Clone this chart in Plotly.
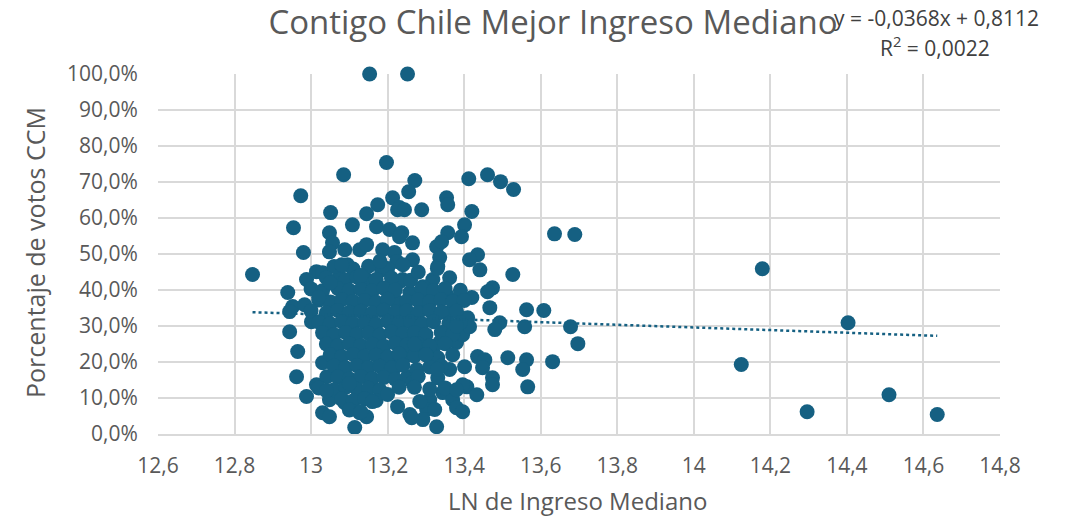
import plotly.graph_objects as go

# LN of median income (x) and CCM vote share (y, fraction)
x_ln = [
    12.847, 13.153, 13.252, 13.197, 13.085, 12.973, 13.271, 13.255, 13.213, 13.174,
    13.354, 13.412, 13.461, 13.495, 13.529, 13.051, 12.954, 13.048, 12.980, 13.108,
    13.145, 13.231, 13.171, 13.205, 13.237, 13.056, 13.048, 13.088, 13.127, 13.145,
    13.187, 13.218, 13.224, 13.095, 13.014, 13.030, 12.988, 13.184, 12.939, 12.952,
    12.983, 13.075, 13.145, 13.239, 13.226, 13.244, 13.289, 13.357, 13.420, 13.401,
    13.393, 13.357, 13.328, 13.341, 13.435, 13.414, 13.441, 13.527, 13.336, 13.331,
    13.474, 13.461, 13.362, 13.318, 13.292, 13.231, 13.265, 13.265, 13.231, 13.258,
    13.302, 13.354, 13.388, 13.420, 13.224, 13.284, 13.467, 13.563, 13.608, 13.493,
    13.480, 13.558, 13.678, 13.697, 13.435, 13.454, 13.448, 13.474, 13.474, 13.514,
    13.563, 13.553, 13.566, 13.631, 13.401, 13.362, 13.331, 13.407, 13.433, 13.344,
    13.370, 13.380, 13.396, 13.310, 13.302, 13.323, 13.284, 13.226, 13.258, 13.292,
    13.328, 13.252, 13.265, 13.213, 13.224, 13.258, 13.318, 13.331, 13.336, 13.380,
    13.396, 13.357, 13.409, 13.414, 12.944, 13.001, 12.944, 12.965, 12.962, 12.988,
    13.030, 13.048, 13.114, 13.014, 13.048, 13.030, 13.043, 13.093, 13.088, 13.108,
    13.145, 13.263, 13.396, 13.127, 13.145, 13.101, 13.041, 13.276, 13.636, 13.689,
    14.124, 14.179, 14.296, 14.403, 14.510, 14.636,
    13.06, 13.11, 13.15, 13.20,
    13.04, 13.09, 13.12, 13.17, 13.21, 13.26,
    13.00, 13.03, 13.07, 13.10, 13.13, 13.16, 13.19, 13.22, 13.29, 13.32, 13.35, 13.39,
    13.02, 13.05, 13.08, 13.11, 13.14, 13.17, 13.20, 13.25, 13.28, 13.31, 13.34, 13.37, 13.40,
    13.00, 13.04, 13.07, 13.10, 13.13, 13.16, 13.19, 13.22, 13.25, 13.28, 13.31, 13.34, 13.38,
    13.02, 13.05, 13.08, 13.11, 13.14, 13.17, 13.20, 13.23, 13.26, 13.29, 13.32, 13.36, 13.39,
    13.03, 13.06, 13.09, 13.12, 13.15, 13.18, 13.21, 13.24, 13.27, 13.30, 13.34, 13.37,
    13.04, 13.07, 13.10, 13.13, 13.16, 13.19, 13.22, 13.25, 13.28, 13.31, 13.35,
    13.05, 13.08, 13.11, 13.14, 13.17, 13.20, 13.23, 13.27, 13.30,
    13.06, 13.09, 13.12, 13.15, 13.18, 13.21, 13.24, 13.31, 13.34,
    13.07, 13.10, 13.13, 13.16, 13.19, 13.22, 13.28,
    13.02, 13.06, 13.09, 13.12, 13.15, 13.18, 13.27, 13.31, 13.35, 13.38,
    13.08, 13.11, 13.14, 13.17,
    13.10, 13.13,
    13.05, 13.02, 13.30, 13.33, 13.37, 13.27, 13.38, 13.33, 13.28, 13.24,
    13.18, 13.13, 13.08, 13.10, 13.04, 13.20, 13.23, 13.16,
]

y_share = [
    0.443, 1.000, 1.000, 0.754, 0.720, 0.662, 0.704, 0.673, 0.656, 0.637,
    0.656, 0.709, 0.720, 0.701, 0.679, 0.615, 0.573, 0.559, 0.504, 0.581,
    0.612, 0.629, 0.576, 0.568, 0.559, 0.531, 0.506, 0.512, 0.512, 0.526,
    0.512, 0.504, 0.479, 0.470, 0.451, 0.448, 0.429, 0.456, 0.393, 0.354,
    0.359, 0.437, 0.429, 0.429, 0.623, 0.623, 0.623, 0.637, 0.618, 0.581,
    0.548, 0.559, 0.520, 0.534, 0.498, 0.484, 0.456, 0.443, 0.490, 0.465,
    0.406, 0.395, 0.434, 0.429, 0.409, 0.548, 0.531, 0.484, 0.423, 0.393,
    0.381, 0.387, 0.381, 0.379, 0.368, 0.365, 0.351, 0.345, 0.343, 0.309,
    0.290, 0.298, 0.298, 0.251, 0.215, 0.206, 0.184, 0.156, 0.137, 0.212,
    0.206, 0.179, 0.131, 0.201, 0.187, 0.179, 0.156, 0.131, 0.109, 0.115,
    0.095, 0.073, 0.062, 0.095, 0.068, 0.068, 0.090, 0.076, 0.054, 0.040,
    0.020, 0.159, 0.143, 0.173, 0.215, 0.220, 0.226, 0.212, 0.254, 0.254,
    0.276, 0.337, 0.323, 0.298, 0.340, 0.312, 0.284, 0.229, 0.159, 0.104,
    0.059, 0.048, 0.018, 0.137, 0.095, 0.198, 0.256, 0.151, 0.087, 0.076,
    0.048, 0.045, 0.137, 0.059, 0.104, 0.087, 0.159, 0.179, 0.556, 0.554,
    0.193, 0.459, 0.062, 0.309, 0.109, 0.054,
    0.465, 0.458, 0.466, 0.460,
    0.434, 0.428, 0.436, 0.429, 0.433, 0.427,
    0.403, 0.398, 0.404, 0.399, 0.402, 0.397, 0.405, 0.400, 0.403, 0.398, 0.404, 0.399,
    0.372, 0.367, 0.373, 0.368, 0.371, 0.366, 0.374, 0.369, 0.372, 0.367, 0.373, 0.368, 0.371,
    0.342, 0.337, 0.343, 0.338, 0.341, 0.336, 0.344, 0.339, 0.342, 0.337, 0.343, 0.338, 0.341,
    0.311, 0.306, 0.312, 0.307, 0.310, 0.305, 0.313, 0.308, 0.311, 0.306, 0.312, 0.307, 0.310,
    0.281, 0.276, 0.282, 0.277, 0.280, 0.275, 0.283, 0.278, 0.281, 0.276, 0.282, 0.277,
    0.250, 0.245, 0.251, 0.246, 0.249, 0.244, 0.252, 0.247, 0.250, 0.245, 0.251,
    0.220, 0.215, 0.221, 0.216, 0.219, 0.214, 0.222, 0.217, 0.220,
    0.189, 0.184, 0.190, 0.185, 0.188, 0.183, 0.191, 0.186, 0.189,
    0.158, 0.153, 0.159, 0.154, 0.157, 0.152, 0.160,
    0.128, 0.123, 0.129, 0.124, 0.127, 0.122, 0.130, 0.125, 0.128, 0.123,
    0.097, 0.092, 0.098, 0.093,
    0.067, 0.062,
    0.420, 0.380, 0.220, 0.180, 0.220, 0.250, 0.300, 0.460, 0.450, 0.470,
    0.480, 0.440, 0.470, 0.140, 0.120, 0.110, 0.130, 0.090,
]

# Linear trendline as reported on the chart
trend_slope = -0.0368
trend_intercept = 0.8112

x_tickvals = [12.6, 12.8, 13.0, 13.2, 13.4, 13.6, 13.8, 14.0, 14.2, 14.4, 14.6, 14.8]
x_ticktext = ["12,6", "12,8", "13", "13,2", "13,4", "13,6", "13,8", "14", "14,2", "14,4", "14,6", "14,8"]
y_tickvals = [0.0, 0.1, 0.2, 0.3, 0.4, 0.5, 0.6, 0.7, 0.8, 0.9, 1.0]
y_ticktext = ["0,0%", "10,0%", "20,0%", "30,0%", "40,0%", "50,0%", "60,0%", "70,0%", "80,0%", "90,0%", "100,0%"]

title_text = "Contigo Chile Mejor Ingreso Mediano"
x_title = "LN de Ingreso Mediano"
y_title = "Porcentaje de votos CCM"
eq_line1 = "y = -0,0368x + 0,8112"
eq_line2 = "R<sup>2</sup> = 0,0022"

COLOR = "#156082"
TEXT = "#595959"
FONT = "Open Sans"

trend_x = [min(x_ln), max(x_ln)]
trend_y = [trend_slope * v + trend_intercept for v in trend_x]

fig = go.Figure()
fig.add_trace(go.Scatter(
    x=x_ln, y=y_share, mode="markers",
    marker=dict(color=COLOR, size=15, line=dict(width=0)),
    cliponaxis=False, showlegend=False,
))
fig.add_trace(go.Scatter(
    x=trend_x, y=trend_y, mode="lines",
    line=dict(color=COLOR, width=2.5, dash="dot"),
    showlegend=False,
))

fig.update_layout(
    width=1066, height=516,
    margin=dict(l=158, r=66, t=74, b=82),
    paper_bgcolor="white", plot_bgcolor="white",
    font=dict(family=FONT, color=TEXT, size=21),
    title=dict(text=title_text, x=553 / 1066, xanchor="center", xref="container",
               y=1 - 22 / 516, yanchor="middle", yref="container",
               font=dict(size=33, color=TEXT, family=FONT)),
    xaxis=dict(range=[12.6, 14.8], tickvals=x_tickvals, ticktext=x_ticktext,
               showgrid=True, gridcolor="#d9d9d9", gridwidth=1.5,
               zeroline=False, showline=True, linecolor="#d9d9d9", linewidth=1.5,
               ticks="outside", ticklen=12, tickcolor="rgba(0,0,0,0)",
               tickfont=dict(size=21, color=TEXT)),
    yaxis=dict(range=[0, 1], tickvals=y_tickvals, ticktext=y_ticktext,
               showgrid=True, gridcolor="#d9d9d9", gridwidth=1.5,
               zeroline=False, showline=False,
               ticks="outside", ticklen=15, tickcolor="rgba(0,0,0,0)",
               tickfont=dict(size=21, color=TEXT)),
    annotations=[
        dict(text=x_title, xref="paper", yref="paper", x=(577 - 158) / 842, y=-(500 - 434) / 360,
             xanchor="center", yanchor="middle", showarrow=False, font=dict(size=24, color=TEXT)),
        dict(text=y_title, xref="paper", yref="paper", x=-(158 - 35) / 842, y=(434 - 253) / 360,
             xanchor="center", yanchor="middle", textangle=-90, showarrow=False,
             font=dict(size=25, color=TEXT)),
        dict(text=eq_line1, xref="paper", yref="paper", x=(936 - 158) / 842, y=(434 - 18) / 360,
             xanchor="center", yanchor="middle", showarrow=False, font=dict(size=21, color="#404040")),
        dict(text=eq_line2, xref="paper", yref="paper", x=(935 - 158) / 842, y=(434 - 46) / 360,
             xanchor="center", yanchor="middle", showarrow=False, font=dict(size=21, color="#404040")),
    ],
)

fig.write_html("out.html", config={"displayModeBar": False},
               post_script="document.body.style.margin='0';document.body.style.padding='0';")
